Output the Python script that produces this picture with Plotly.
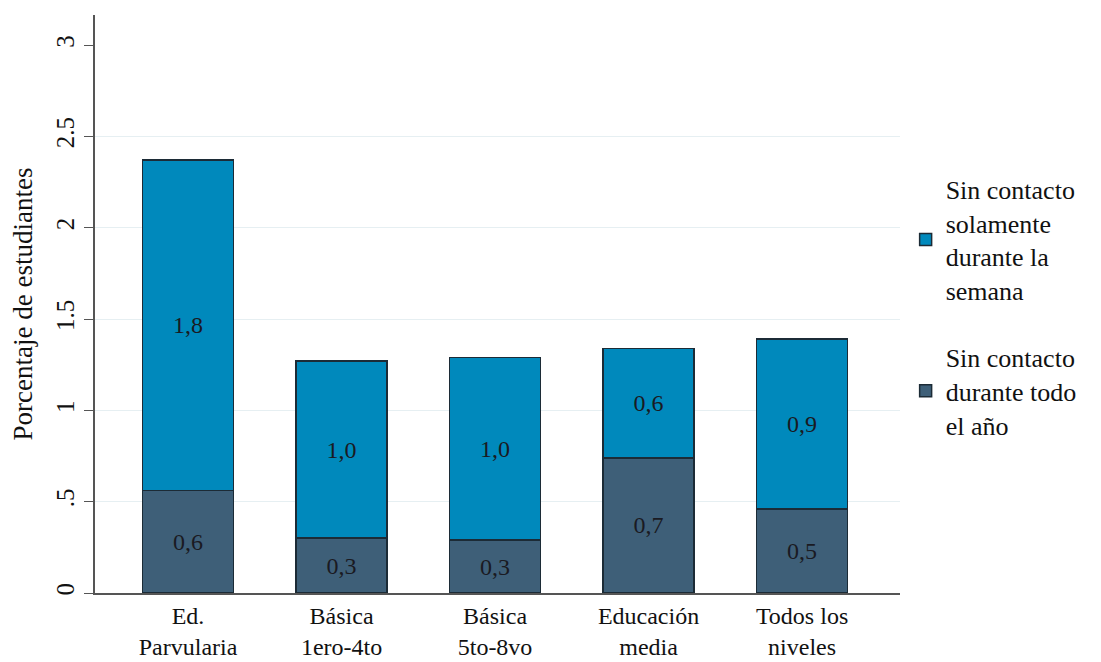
import plotly.graph_objects as go

categories = ["Ed.<br>Parvularia", "Básica<br>1ero-4to", "Básica<br>5to-8vo",
              "Educación<br>media", "Todos los<br>niveles"]
sin_contacto_anio = [0.56, 0.30, 0.29, 0.74, 0.46]
sin_contacto_semana = [1.81, 0.97, 1.00, 0.60, 0.93]
y_ticks = [0, 0.5, 1, 1.5, 2, 2.5, 3]
y_ticktext = ["0", ".5", "1", "1.5", "2", "2.5", "3"]
grid_ticks = [0.5, 1, 1.5, 2, 2.5]

FONT = "Liberation Serif"
DARK = "#3e5f78"
BLUE = "#0089bc"
EDGE = "#1c2b36"
TXT = "#111111"


def fmt(v):
    return f"{v:.1f}".replace(".", ",")


x_idx = list(range(len(categories)))

fig = go.Figure()

fig.add_trace(go.Bar(
    x=x_idx,
    y=sin_contacto_anio,
    name="Sin contacto<br>durante todo<br>el año",
    legendgroup="anio",
    legendrank=2,
    marker=dict(color=DARK, line=dict(color=EDGE, width=1.5)),
    width=0.593,
    text=[fmt(v) for v in sin_contacto_anio],
    textposition="inside",
    insidetextanchor="middle",
    textangle=0,
    textfont=dict(family=FONT, size=24, color="#1a1a22"),
))

fig.add_trace(go.Bar(
    x=x_idx,
    y=sin_contacto_semana,
    name="Sin contacto<br>solamente<br>durante la<br>semana",
    legendgroup="semana",
    legendrank=1,
    marker=dict(color=BLUE, line=dict(color=EDGE, width=1.5)),
    width=0.593,
    text=[fmt(v) for v in sin_contacto_semana],
    textposition="inside",
    insidetextanchor="middle",
    textangle=0,
    textfont=dict(family=FONT, size=24, color="#1a1a22"),
))

# invisible helper trace so the light grid skips 0 and 3
fig.add_trace(go.Scatter(x=[0], y=[0], yaxis="y2", showlegend=False,
                         mode="markers", marker=dict(opacity=0), hoverinfo="skip"))

# page body adds an 8px margin, so the figure is sized to fit inside the window
fig.update_layout(
    barmode="stack",
    width=1093,
    height=654,
    margin=dict(l=87, r=201, t=7, b=69, autoexpand=False),
    plot_bgcolor="white",
    paper_bgcolor="white",
    font=dict(family=FONT, size=26, color=TXT),
    xaxis=dict(
        range=[-0.606, 4.638],
        tickvals=x_idx,
        ticktext=categories,
        showgrid=False,
        showline=True,
        linecolor="#555555",
        linewidth=1.5,
        ticks="",
        automargin=False,
        tickfont=dict(family=FONT, size=24, color=TXT),
        zeroline=False,
    ),
    yaxis=dict(
        range=[0, 3.165],
        tickvals=y_ticks,
        ticktext=y_ticktext,
        tickangle=-90,
        showgrid=False,
        showline=True,
        linecolor="#555555",
        linewidth=1.5,
        ticks="outside",
        ticklen=9,
        tickcolor="#555555",
        automargin=False,
        tickfont=dict(family=FONT, size=25, color=TXT),
        zeroline=False,
        title=dict(text="Porcentaje de estudiantes", standoff=14,
                   font=dict(family=FONT, size=27, color=TXT)),
    ),
    yaxis2=dict(
        range=[0, 3.165],
        overlaying="y",
        tickvals=grid_ticks,
        showticklabels=False,
        showgrid=True,
        gridcolor="#e6eff2",
        gridwidth=1,
        zeroline=False,
        showline=False,
        automargin=False,
        layer="below traces",
    ),
    legend=dict(
        x=1.007,
        y=0.74,
        xanchor="left",
        yanchor="top",
        traceorder="grouped",
        valign="middle",
        tracegroupgap=30,
        font=dict(family=FONT, size=26, color=TXT),
        bgcolor="rgba(0,0,0,0)",
    ),
    showlegend=True,
)

fig.write_html("out.html")
